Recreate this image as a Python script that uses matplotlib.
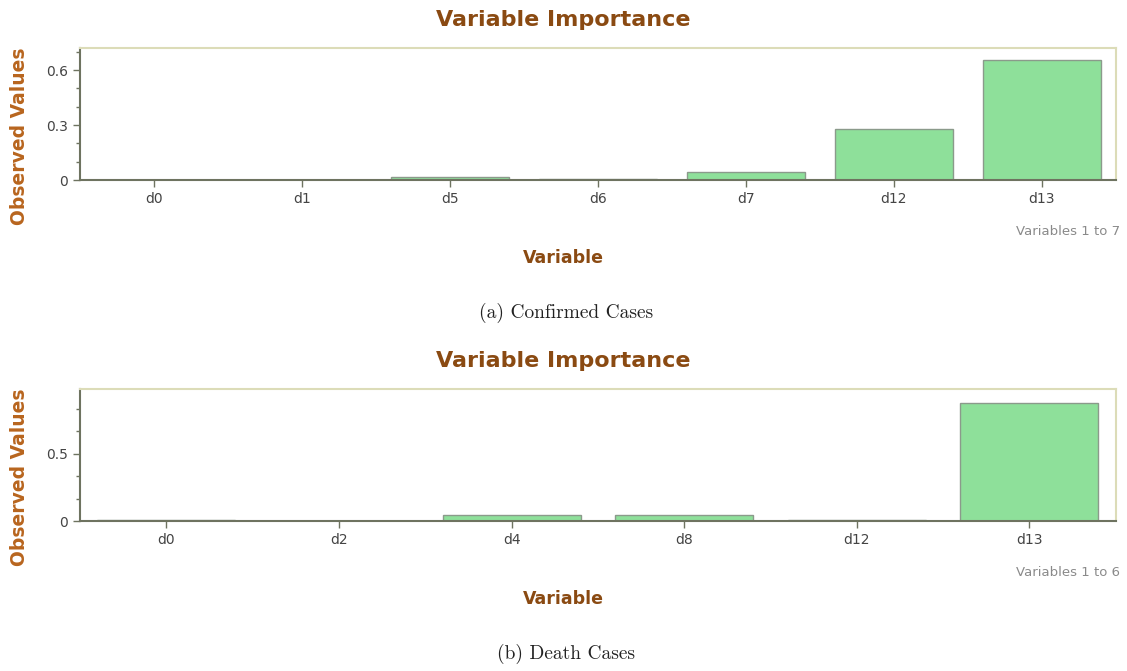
import matplotlib.pyplot as plt
import numpy as np
from matplotlib.ticker import MultipleLocator

# variable importance, confirmed cases
conf_vars = ["d0", "d1", "d5", "d6", "d7", "d12", "d13"]
conf_vals = [0.001, 0.001, 0.018, 0.008, 0.042, 0.278, 0.655]

# variable importance, death cases
death_vars = ["d0", "d2", "d4", "d8", "d12", "d13"]
death_vals = [0.008, 0.002, 0.044, 0.044, 0.006, 0.88]

BROWN = "#8a4a12"
ORANGE = "#b8651e"
BAR = "#8ee09a"
EDGE = "#8b9a8b"
AXIS = "#6e7360"
FRAME = "#dcdcb8"

fig = plt.figure(figsize=(11.27, 6.71), dpi=100)


def panel(bottom, labels, vals, ymax, major, minor, ylabels, caption, tag):
    ax = fig.add_axes([0.071, bottom, 0.919, 0.1967])
    x = np.arange(len(labels))
    ax.bar(x, vals, width=0.8, color=BAR, edgecolor=EDGE, linewidth=1.0)
    ax.set_xlim(-0.5, len(labels) - 0.5)
    ax.set_ylim(0, ymax)
    ax.set_xticks(x)
    ax.set_xticklabels(labels, fontsize=10, color="#444444")
    ax.yaxis.set_major_locator(MultipleLocator(major))
    ax.yaxis.set_minor_locator(MultipleLocator(minor))
    ax.yaxis.set_major_formatter(plt.FuncFormatter(lambda v, p: ylabels.get(round(v, 2), "")))
    ax.tick_params(axis="y", labelsize=10, colors=AXIS, labelcolor="#444444", length=5, width=1)
    ax.tick_params(axis="y", which="minor", colors=AXIS, length=3, width=1)
    ax.tick_params(axis="x", colors=AXIS, labelcolor="#444444", length=5, width=1)
    for s in ("left", "bottom"):
        ax.spines[s].set_color(AXIS)
        ax.spines[s].set_linewidth(1.5)
    for s in ("top", "right"):
        ax.spines[s].set_color(FRAME)
        ax.spines[s].set_linewidth(1.5)
    top = bottom + 0.1967
    fig.text(0.5, top + 0.042, "Variable Importance", ha="center", va="center",
             fontsize=16, fontweight="bold", color=BROWN)
    fig.text(0.017, bottom + 0.065, "Observed Values", rotation=90, ha="center", va="center",
             fontsize=13.5, fontweight="bold", color=ORANGE)
    fig.text(0.5, bottom - 0.116, "Variable", ha="center", va="center",
             fontsize=12.5, fontweight="bold", color=BROWN)
    fig.text(0.994, bottom - 0.076, tag, ha="right", va="center",
             fontsize=9.5, color="#8a8a8a")
    fig.text(0.502, bottom - 0.198, caption, ha="center", va="center",
             fontsize=14, family="cmr10", color="#222222")
    return ax


panel(0.7317, conf_vars, conf_vals, 0.72, 0.3, 0.1,
      {0.0: "0", 0.3: "0.3", 0.6: "0.6"}, "(a) Confirmed Cases", "Variables 1 to 7")
panel(0.2235, death_vars, death_vals, 0.98, 0.5, 0.5 / 3,
      {0.0: "0", 0.5: "0.5"}, "(b) Death Cases", "Variables 1 to 6")

fig.savefig("out.png", dpi=100)
